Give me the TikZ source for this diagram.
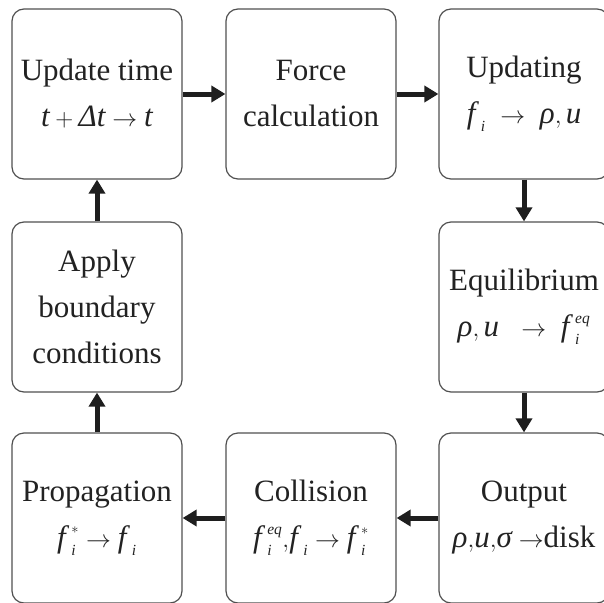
\documentclass[tikz,border=0pt]{standalone}
\usepackage{amsmath}
\usepackage{fontspec}
\setmainfont{Liberation Serif}
\usetikzlibrary{arrows.meta}
\definecolor{boxgray}{HTML}{505050}
\definecolor{flowblack}{HTML}{1E1E1E}
\definecolor{txtgray}{HTML}{222222}
% italic letters from the text font
\newcommand\mi[1]{\textit{#1}}
\newcommand\fv[1]{{\mi{f\/}\kern2pt}^{\scriptscriptstyle #1}_{\scriptscriptstyle\mi{i}}}
\begin{document}
\begin{tikzpicture}[x=1pt, y=1pt,
    box/.style={draw=boxgray, line width=1.2pt, rounded corners=12pt,
      minimum width=170pt, minimum height=170pt, inner sep=0pt,
      align=center, text=txtgray, font=\fontsize{31}{46}\selectfont},
    flow/.style={draw=flowblack, line width=5pt,
      -{Triangle[length=14pt, width=16pt]}}]
  \useasboundingbox (0,0) rectangle (604,-602);
  % top row
  \node[box] (upd) at (97,-94) {Update time\\ $\mi{t}+\mi{Δt}\rightarrow\mi{t}$};
  \node[box] (force) at (311,-94) {Force\\ calculation};
  \node[box] (updating) at (524,-94) {Updating\\ $\fv{}\ \rightarrow\ \mi{ρ},\mi{u}$};
  % middle row
  \node[box] (bound) at (97,-307) {Apply\\ boundary\\ conditions};
  \node[box] (equil) at (524,-307) {Equilibrium\\ $\mi{ρ},\mi{u}\ \ \rightarrow\ \fv{\mi{eq}}$};
  % bottom row
  \node[box] (prop) at (97,-518) {Propagation\\ $\fv{*}\rightarrow\fv{}$};
  \node[box] (coll) at (311,-518) {Collision\\ $\fv{\mi{eq}}{,}\fv{}\rightarrow\fv{*}$};
  \node[box] (output) at (524,-518) {Output\\ $\mi{ρ}{,}\mi{u}{,}\mi{σ}\rightarrow$disk};
  \draw[flow] (upd) -- (force);
  \draw[flow] (force) -- (updating);
  \draw[flow] (updating) -- (equil);
  \draw[flow] (equil) -- (output);
  \draw[flow] (output) -- (coll);
  \draw[flow] (coll) -- (prop);
  \draw[flow] (prop) -- (bound);
  \draw[flow] (bound) -- (upd);
\end{tikzpicture}
\end{document}
